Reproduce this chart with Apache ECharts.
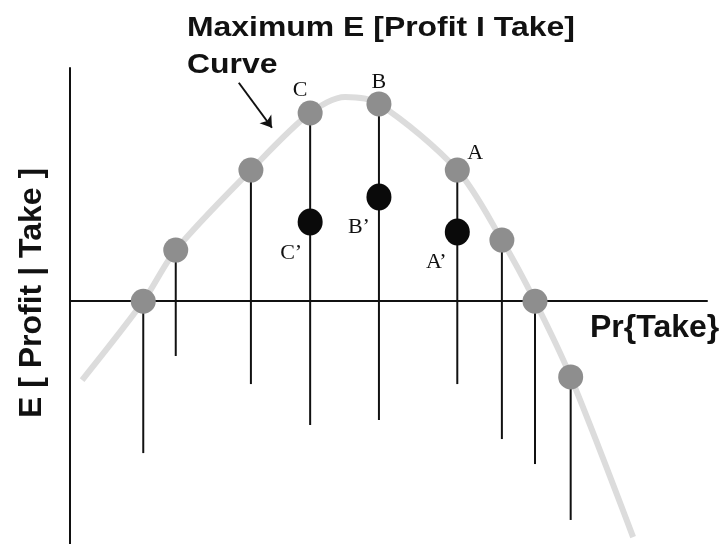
<!DOCTYPE html>
<html>
<head>
<meta charset="utf-8">
<script src="https://cdn.jsdelivr.net/npm/echarts@6/dist/echarts.min.js"></script>
<style>
  html, body { margin: 0; padding: 0; background: #fff; }
  #chart { width: 722px; height: 544px; }
</style>
</head>
<body>
<div id="chart"></div>
<script>
// curve: Maximum E[Profit | Take] against Pr{Take}
const curveX = [1.9, 11.5, 16.6, 28.4, 37.7, 43.2, 48.5, 60.8, 67.8, 73.0, 78.6, 88.4]
const curveY = [-33.1, 0, 21.5, 55.1, 79.1, 85.8, 82.9, 55.1, 25.7, 0, -31.8, -99.1]

// gray points on the curve and the bottom end of their stems
const pointX = [11.5, 16.6, 28.4, 37.7, 48.5, 60.8, 67.8, 73.0, 78.6]
const pointY = [0, 21.5, 55.1, 79.1, 82.9, 55.1, 25.7, 0, -31.8]
const stemBottom = [-63.8, -23.0, -34.8, -52.0, -49.9, -34.8, -57.9, -68.4, -91.9]
const pointLabels = ['', '', '', 'C', 'B', 'A', '', '', '']

// black points below C, B, A
const blackX = [37.7, 48.5, 60.8]
const blackY = [33.3, 43.8, 29.1]
const blackLabels = ['C\u2019', 'B\u2019', 'A\u2019']

const chart = echarts.init(document.getElementById('chart'))

const labelOffsets = { C: [-10, -23], B: [0, -22], A: [18, -17] }
const blackOffsets = [[-19, 31], [-20, 30], [-21, 30]]

const serifLabel = {
  show: true,
  position: 'inside',
  fontFamily: 'Liberation Serif',
  fontSize: 22,
  color: '#111'
}

const option = {
  animation: false,
  backgroundColor: '#fff',
  textStyle: { fontFamily: 'Liberation Sans' },
  grid: { left: 70, top: 68, width: 637, height: 476 },
  xAxis: {
    type: 'value',
    min: 0,
    max: 100,
    axisLine: { show: true, onZero: true, lineStyle: { color: '#111', width: 2 } },
    axisTick: { show: false },
    axisLabel: { show: false },
    splitLine: { show: false }
  },
  yAxis: {
    type: 'value',
    min: -102,
    max: 98,
    axisLine: { show: true, lineStyle: { color: '#111', width: 2 } },
    axisTick: { show: false },
    axisLabel: { show: false },
    splitLine: { show: false }
  },
  graphic: [
    {
      type: 'text', x: 187, y: 28, scaleX: 1.14,
      style: { text: 'Maximum E [Profit I Take]', fontSize: 28, fontWeight: 'bold', fontFamily: 'Liberation Sans', fill: '#111', align: 'left', verticalAlign: 'middle' }
    },
    {
      type: 'text', x: 187, y: 65, scaleX: 1.14,
      style: { text: 'Curve', fontSize: 28, fontWeight: 'bold', fontFamily: 'Liberation Sans', fill: '#111', align: 'left', verticalAlign: 'middle' }
    },
    {
      type: 'text', x: 590, y: 328,
      style: { text: 'Pr{Take}', fontSize: 32, fontWeight: 'bold', fontFamily: 'Liberation Sans', fill: '#111', align: 'left', verticalAlign: 'middle' }
    },
    {
      type: 'text', x: 32, y: 293, rotation: Math.PI / 2,
      style: { text: 'E [ Profit | Take ]', fontSize: 32, fontWeight: 'bold', fontFamily: 'Liberation Sans', fill: '#111', align: 'center', verticalAlign: 'middle' }
    }
  ],
  series: [
    {
      type: 'line',
      data: curveX.map((x, i) => [x, curveY[i]]),
      smooth: 0.3,
      showSymbol: false,
      lineStyle: { color: '#dcdcdc', width: 6 },
      z: 1,
      markLine: {
        silent: true,
        symbol: ['none', 'arrow'],
        symbolSize: 11,
        label: { show: false },
        lineStyle: { color: '#111', width: 2, type: 'solid' },
        data: [[{ coord: [26.5, 91.8] }, { coord: [31.7, 72.9] }]]
      }
    },
    {
      type: 'custom',
      z: 2,
      data: pointX.map((x, i) => [x, pointY[i], stemBottom[i]]),
      renderItem: (params, api) => {
        const top = api.coord([api.value(0), api.value(1)])
        const bot = api.coord([api.value(0), api.value(2)])
        return {
          type: 'line',
          shape: { x1: top[0], y1: top[1], x2: bot[0], y2: bot[1] },
          style: { stroke: '#111', lineWidth: 2 }
        }
      }
    },
    {
      type: 'scatter',
      z: 3,
      symbolSize: 25,
      itemStyle: { color: '#8e8e8e', opacity: 1 },
      data: pointX.map((x, i) => ({
        value: [x, pointY[i]],
        label: pointLabels[i]
          ? Object.assign({}, serifLabel, { formatter: pointLabels[i], offset: labelOffsets[pointLabels[i]] })
          : { show: false }
      }))
    },
    {
      type: 'scatter',
      z: 4,
      symbolSize: [25, 27],
      itemStyle: { color: '#0a0a0a', opacity: 1 },
      data: blackX.map((x, i) => ({
        value: [x, blackY[i]],
        label: Object.assign({}, serifLabel, { formatter: blackLabels[i], offset: blackOffsets[i] })
      }))
    }
  ]
}

chart.setOption(option)
</script>
</body>
</html>
